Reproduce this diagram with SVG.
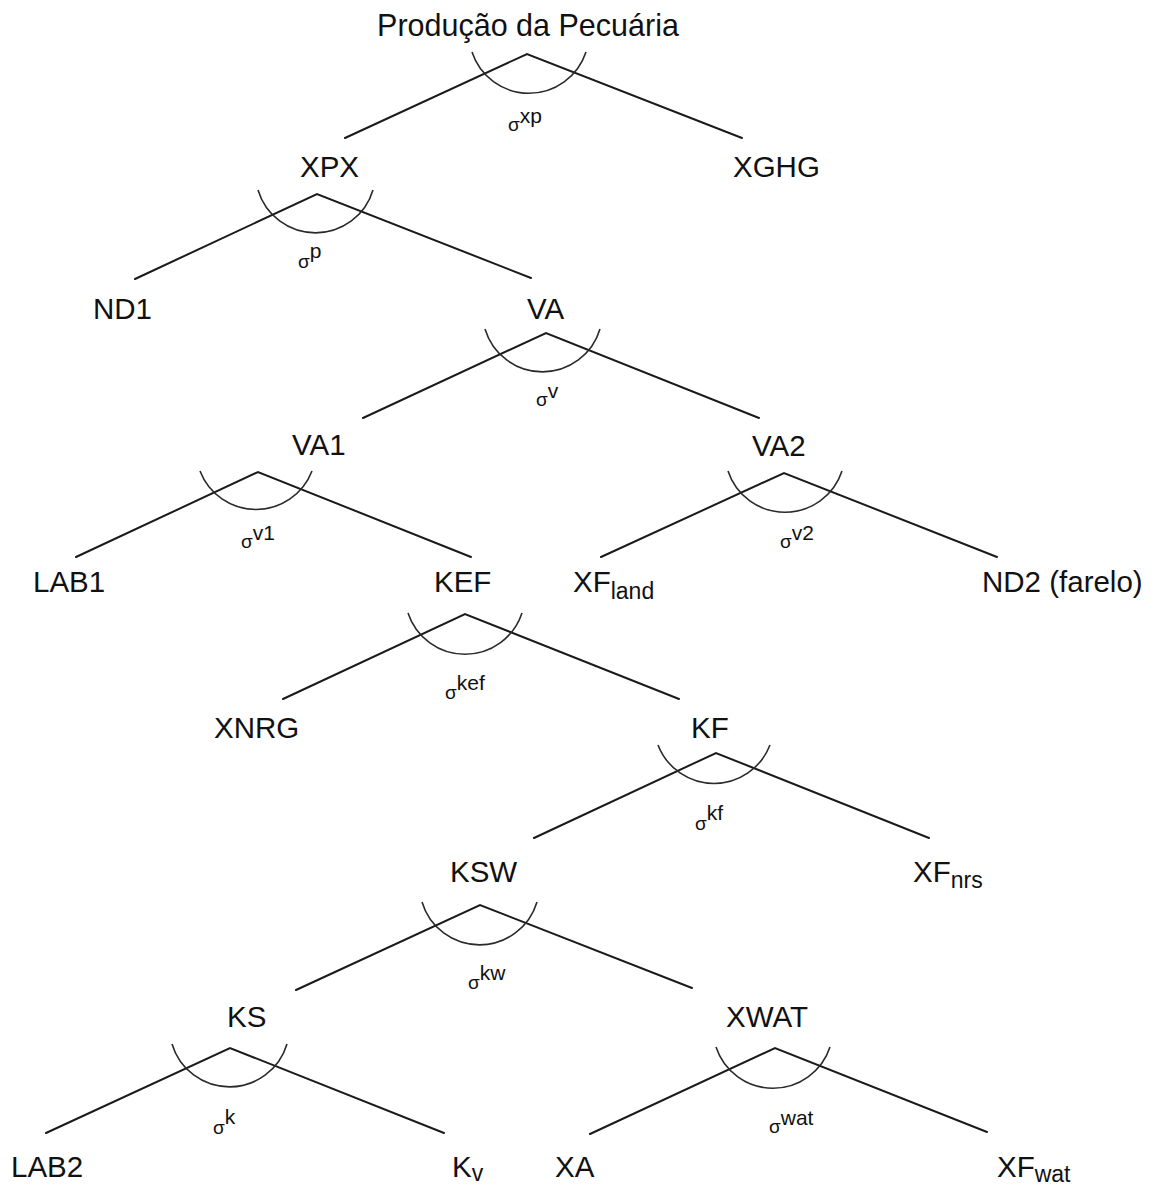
<svg xmlns="http://www.w3.org/2000/svg" width="1158" height="1187" viewBox="0 0 1158 1187">
<style>
  .bg { fill: #ffffff; }
  .node { font-family: "Liberation Sans", Arial, sans-serif; font-size: 29.5px; fill: #111; }
  .root { font-size: 30.5px; }
  .sub { font-size: 23px; }
  .edge { stroke: #1a1a1a; stroke-width: 2; fill: none; stroke-linecap: round; }
  .arc { stroke: #2a2a2a; stroke-width: 1.6; fill: none; }
  .sig { font-family: "Liberation Sans", Arial, sans-serif; font-size: 19px; fill: #111; }
  .sup { font-size: 21px; }
</style>
<rect class="bg" x="0" y="0" width="1158" height="1187"/>

<g id="connectors">
  <path class="edge" d="M345 138 L527 54 L742 138"/>
  <path class="edge" d="M135 279 L317 194 L531 278"/>
  <path class="edge" d="M363 418 L546 333 L759 418"/>
  <path class="edge" d="M76 557 L258 472 L471 557"/>
  <path class="edge" d="M601 557 L784 473 L997 557"/>
  <path class="edge" d="M283 699 L465 614 L679 699"/>
  <path class="edge" d="M534 838 L716 753 L929 838"/>
  <path class="edge" d="M296 990 L480 905 L692 988"/>
  <path class="edge" d="M46 1133 L230 1048 L444 1133"/>
  <path class="edge" d="M590 1134 L775 1048 L987 1132"/>
</g>

<g id="elasticities">
  <g id="sigma-xp">
    <path class="arc" d="M472 52 A60 60 0 0 0 586 52"/>
    <text class="sig" x="508" y="131">σ<tspan class="sup" dy="-8">xp</tspan></text>
  </g>
  <g id="sigma-p">
    <path class="arc" d="M258 190 A60 60 0 0 0 373 190"/>
    <text class="sig" x="298" y="268">σ<tspan class="sup" dy="-10">p</tspan></text>
  </g>
  <g id="sigma-v">
    <path class="arc" d="M485 329 A60 60 0 0 0 600 329"/>
    <text class="sig" x="536" y="406">σ<tspan class="sup" dy="-8">v</tspan></text>
  </g>
  <g id="sigma-v1">
    <path class="arc" d="M200 471 A60 60 0 0 0 312 471"/>
    <text class="sig" x="241" y="548">σ<tspan class="sup" dy="-8">v1</tspan></text>
  </g>
  <g id="sigma-v2">
    <path class="arc" d="M728 471 A60 60 0 0 0 842 471"/>
    <text class="sig" x="780" y="548">σ<tspan class="sup" dy="-8">v2</tspan></text>
  </g>
  <g id="sigma-kef">
    <path class="arc" d="M408 613 A60 60 0 0 0 522 613"/>
    <text class="sig" x="445" y="699">σ<tspan class="sup" dy="-9">kef</tspan></text>
  </g>
  <g id="sigma-kf">
    <path class="arc" d="M658 745 A60 60 0 0 0 770 745"/>
    <text class="sig" x="695" y="830">σ<tspan class="sup" dy="-10">kf</tspan></text>
  </g>
  <g id="sigma-kw">
    <path class="arc" d="M422 902 A60 60 0 0 0 537 902"/>
    <text class="sig" x="468" y="989">σ<tspan class="sup" dy="-9">kw</tspan></text>
  </g>
  <g id="sigma-k">
    <path class="arc" d="M172 1044 A60 60 0 0 0 287 1044"/>
    <text class="sig" x="213" y="1134">σ<tspan class="sup" dy="-10">k</tspan></text>
  </g>
  <g id="sigma-wat">
    <path class="arc" d="M716 1047 A60 60 0 0 0 830 1047"/>
    <text class="sig" x="769" y="1133">σ<tspan class="sup" dy="-8">wat</tspan></text>
  </g>
</g>

<g id="node-root"><text class="node root" x="528" y="36" text-anchor="middle">Produção da Pecuária</text></g>
<g id="node-XPX"><text class="node" x="300" y="177">XPX</text></g>
<g id="node-XGHG"><text class="node" x="733" y="177">XGHG</text></g>
<g id="node-ND1"><text class="node" x="93" y="319">ND1</text></g>
<g id="node-VA"><text class="node" x="527" y="319">VA</text></g>
<g id="node-VA1"><text class="node" x="292" y="455">VA1</text></g>
<g id="node-VA2"><text class="node" x="752" y="456">VA2</text></g>
<g id="node-LAB1"><text class="node" x="33" y="592">LAB1</text></g>
<g id="node-KEF"><text class="node" x="434" y="592">KEF</text></g>
<g id="node-XFland"><text class="node" x="573" y="592">XF<tspan class="sub" dy="7">land</tspan></text></g>
<g id="node-ND2"><text class="node" x="982" y="592">ND2 (farelo)</text></g>
<g id="node-XNRG"><text class="node" x="214" y="738">XNRG</text></g>
<g id="node-KF"><text class="node" x="691" y="738">KF</text></g>
<g id="node-KSW"><text class="node" x="450" y="882">KSW</text></g>
<g id="node-XFnrs"><text class="node" x="913" y="882">XF<tspan class="sub" dy="6">nrs</tspan></text></g>
<g id="node-KS"><text class="node" x="227" y="1027">KS</text></g>
<g id="node-XWAT"><text class="node" x="726" y="1027">XWAT</text></g>
<g id="node-LAB2"><text class="node" x="11" y="1177">LAB2</text></g>
<g id="node-Kv"><text class="node" x="452" y="1177">K<tspan class="sub" dy="4">v</tspan></text></g>
<g id="node-XA"><text class="node" x="555" y="1177">XA</text></g>
<g id="node-XFwat"><text class="node" x="997" y="1177">XF<tspan class="sub" dy="5">wat</tspan></text></g>
</svg>
